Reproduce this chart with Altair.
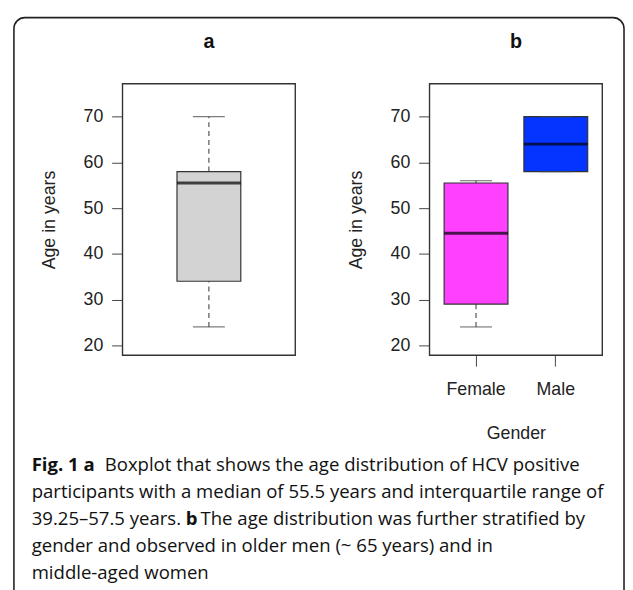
import altair as alt
import pandas as pd

# ---------------- data ----------------
overall_group = ["All"]
overall_min = [24]
overall_q1 = [34]
overall_median = [55.5]
overall_q3 = [58]
overall_max = [70]

genders = ["Female", "Male"]
gender_min = [24, 58]
gender_q1 = [29, 58]
gender_median = [44.5, 64]
gender_q3 = [55.5, 70]
gender_max = [56, 70]
gender_colors = ["#FF40FF", "#0434FF"]

y_ticks = [20, 30, 40, 50, 60, 70]
y_domain = [17.8, 77.2]

caption_lines = [
    ["Fig. 1 a", "Boxplot that shows the age distribution of HCV positive"],
    ["", "participants with a median of 55.5 years and interquartile range of"],
    ["39.25\u201357.5 years.", "b", "The age distribution was further stratified by"],
    ["", "gender and observed in older men (~ 65 years) and in"],
    ["", "middle-aged women"],
]

# ---------------- layout (pixels) ----------------
W, H = 625, 582
A_X = [116, 291]
B_X = [427, 602]
Y_RANGE = [348, 73]
BAND_FRAC = 0.8
CAP_PX = 32.3
BOX_PX = 64.6
PLOT_FONT = "Liberation Sans"
PLOT_SIZE = 18
CAP_FONT = "Open Sans"
CAP_SIZE = 18.8

df_a = pd.DataFrame({"grp": overall_group, "lo": overall_min, "q1": overall_q1,
                     "med": overall_median, "q3": overall_q3, "hi": overall_max})
df_b = pd.DataFrame({"grp": genders, "lo": gender_min, "q1": gender_q1,
                     "med": gender_median, "q3": gender_q3, "hi": gender_max})

one = pd.DataFrame({"k": [0]})


def y_axis(offset):
    return alt.Axis(values=y_ticks, domain=False, grid=False, tickSize=11,
                    tickColor="#444", tickWidth=1, labelPadding=9,
                    labelFont=PLOT_FONT, labelFontSize=PLOT_SIZE, labelColor="#222",
                    title="Age in years", titleFont=PLOT_FONT, titleFontSize=PLOT_SIZE,
                    titleFontWeight="normal", titleColor="#222", titlePadding=25,
                    orient="left", offset=offset)


def panel(df, xrange, pad_outer, fill, x_axis, y_offset):
    xs = alt.X("grp:N", sort=list(df["grp"]),
               scale=alt.Scale(domain=list(df["grp"]), range=xrange,
                               paddingInner=0, paddingOuter=pad_outer),
               axis=x_axis)
    ys = alt.Scale(domain=y_domain, range=Y_RANGE, nice=False, zero=False)
    base = alt.Chart(df)
    whisk_hi = base.mark_rule(color="#444", strokeDash=[5, 4], strokeWidth=1.1).encode(
        x=xs, y=alt.Y("q3:Q", scale=ys, axis=y_axis(y_offset)), y2="hi:Q")
    whisk_lo = base.mark_rule(color="#444", strokeDash=[5, 4], strokeWidth=1.1).encode(
        x=xs, y=alt.Y("lo:Q", scale=ys), y2="q1:Q")
    cap_hi = base.mark_tick(color="#444", size=CAP_PX, thickness=1.2, orient="horizontal").encode(
        x=xs, y=alt.Y("hi:Q", scale=ys))
    cap_lo = base.mark_tick(color="#444", size=CAP_PX, thickness=1.2, orient="horizontal").encode(
        x=xs, y=alt.Y("lo:Q", scale=ys))
    box = base.mark_bar(stroke="#333", strokeWidth=1.2,
                        width=alt.RelativeBandSize(BAND_FRAC)).encode(
        x=xs, y=alt.Y("q1:Q", scale=ys), y2="q3:Q",
        color=alt.Color("grp:N", scale=alt.Scale(domain=list(df["grp"]), range=fill), legend=None))
    med = base.mark_tick(color="#000", size=BOX_PX, thickness=3, orient="horizontal").encode(
        x=xs, y=alt.Y("med:Q", scale=ys))
    return alt.layer(whisk_hi, whisk_lo, box, cap_hi, cap_lo, med)


panel_a = panel(df_a, A_X, 0.583, ["#D3D3D3"], None, -A_X[0])
panel_b = panel(df_b, B_X, 0.083, gender_colors,
                alt.Axis(orient="bottom", offset=-(H - Y_RANGE[0]), domain=False, grid=False,
                         tickSize=11, tickColor="#444", labelPadding=15, labelAngle=0,
                         labelFont=PLOT_FONT, labelFontSize=PLOT_SIZE, labelColor="#222",
                         title="Gender", titleFont=PLOT_FONT, titleFontSize=PLOT_SIZE,
                         titleFontWeight="normal", titleColor="#222", titlePadding=26),
                -B_X[0])

border = alt.Chart(one).mark_rect(fill=None, stroke="#222", strokeWidth=1.6,
                                  cornerRadius=11).encode(
    x=alt.value(6), x2=alt.value(W - 1), y=alt.value(6), y2=alt.value(H + 40))


def frame(xr):
    return alt.Chart(one).mark_rect(fill=None, stroke="#333", strokeWidth=1.4).encode(
        x=alt.value(xr[0]), x2=alt.value(xr[1]), y=alt.value(Y_RANGE[1]), y2=alt.value(Y_RANGE[0]))


def label(txt, x, y, weight="normal", size=18, font=PLOT_FONT, align="center"):
    return alt.Chart(one).mark_text(text=txt, font=font, fontSize=size, fontWeight=weight,
                                    align=align, baseline="middle", color="#111").encode(
        x=alt.value(x), y=alt.value(y))


title_a = label("a", (A_X[0] + A_X[1]) / 2, 31, "bold", 20)
title_b = label("b", (B_X[0] + B_X[1]) / 2, 31, "bold", 20)

CAP_X = 24
CAP_Y0 = 459
CAP_DY = 27.5
cap_layers = []
for i, segs in enumerate(caption_lines):
    y = CAP_Y0 + i * CAP_DY
    if i == 0:
        cap_layers.append(label(segs[0], CAP_X, y, "bold", CAP_SIZE, CAP_FONT, "left"))
        cap_layers.append(label(segs[1], CAP_X + 74, y, "normal", CAP_SIZE, CAP_FONT, "left"))
    elif i == 2:
        cap_layers.append(label(segs[0], CAP_X, y, "normal", CAP_SIZE, CAP_FONT, "left"))
        cap_layers.append(label(segs[1], CAP_X + 156, y, "bold", CAP_SIZE, CAP_FONT, "left"))
        cap_layers.append(label(segs[2], CAP_X + 171, y, "normal", CAP_SIZE, CAP_FONT, "left"))
    else:
        cap_layers.append(label(segs[1], CAP_X, y, "normal", CAP_SIZE, CAP_FONT, "left"))

chart = alt.layer(
    border, frame(A_X), frame(B_X), title_a, title_b, *cap_layers, panel_a, panel_b
).resolve_scale(x="independent", y="independent", color="independent").resolve_axis(
    x="independent", y="independent"
).properties(
    width=W, height=H, autosize=alt.AutoSizeParams(type="none"),
    padding={"left": 0, "right": 0, "top": 0, "bottom": 0}, background="white"
).configure_view(stroke=None)

chart.save("out.html", embed_options={"renderer": "svg", "actions": False})
